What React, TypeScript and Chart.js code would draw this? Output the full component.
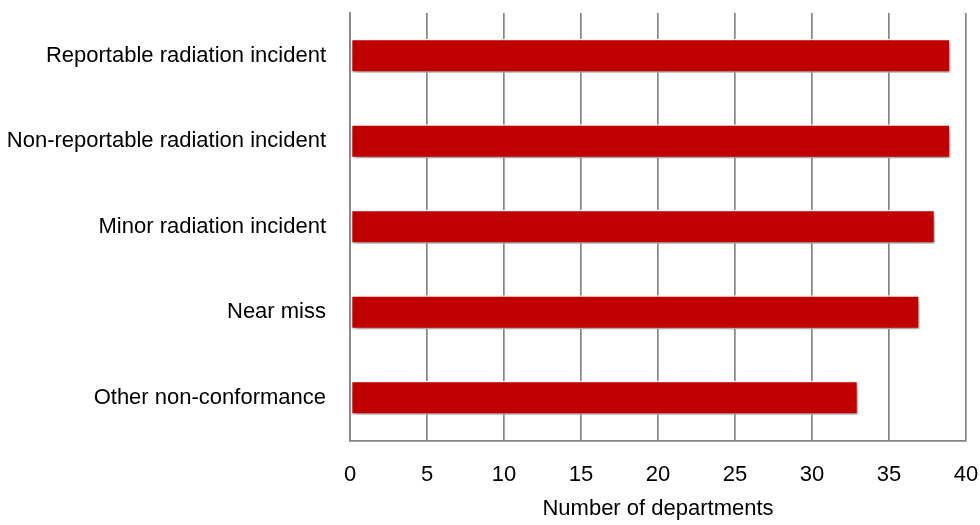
import React, { useEffect, useRef } from "react";
import { Chart, registerables } from "chart.js";

Chart.register(...registerables);

const categories = [
  "Reportable radiation incident",
  "Non-reportable radiation incident",
  "Minor radiation incident",
  "Near miss",
  "Other non-conformance",
];
const departments = [39, 39, 38, 37, 33];
const xTickStep = 5;
const xMax = 40;
const xTitle = "Number of departments";

const FONT = "'Liberation Sans', Arial, sans-serif";

// Soft drop shadow under the bars
const barShadow = {
  id: "barShadow",
  beforeDatasetDraw(chart: any) {
    const ctx = chart.ctx;
    ctx.save();
    ctx.shadowColor = "rgba(0,0,0,0.38)";
    ctx.shadowBlur = 6;
    ctx.shadowOffsetX = 2;
    ctx.shadowOffsetY = 4;
  },
  afterDatasetDraw(chart: any) {
    chart.ctx.restore();
  },
};

export default function App() {
  const ref = useRef<HTMLCanvasElement>(null);

  useEffect(() => {
    if (!ref.current) return;
    const chart = new Chart(ref.current, {
      type: "bar",
      data: {
        labels: categories,
        datasets: [
          {
            data: departments,
            backgroundColor: "#C00000",
            borderColor: "#ffffff",
            borderWidth: 1.5,
            borderSkipped: false,
            categoryPercentage: 1,
            barPercentage: 0.4,
          },
        ],
      },
      options: {
        indexAxis: "y",
        animation: false,
        responsive: false,
        layout: { padding: { top: 13, right: 14, left: 0, bottom: 0 } },
        plugins: { legend: { display: false }, tooltip: { enabled: false } },
        scales: {
          x: {
            min: 0,
            max: xMax,
            afterFit(scale: any) {
              scale.height = 84.5;
              scale.paddingLeft = 0;
              scale.paddingRight = 0;
            },
            ticks: {
              stepSize: xTickStep,
              color: "#000",
              font: { family: FONT, size: 22 },
              padding: 21,
            },
            grid: { color: "#858585", lineWidth: 1.7, drawTicks: false },
            border: { display: true, color: "#858585", width: 1.7 },
            title: {
              display: true,
              text: xTitle,
              color: "#000",
              font: { family: FONT, size: 22 },
              padding: { top: 0, bottom: 3 },
            },
          },
          y: {
            afterFit(scale: any) {
              scale.width = 350;
              scale.paddingTop = 0;
              scale.paddingBottom = 0;
            },
            ticks: {
              color: "#000",
              font: { family: FONT, size: 22 },
              padding: 24,
            },
            grid: { display: false, drawTicks: false },
            border: { display: true, color: "#858585", width: 1.7 },
          },
        },
      },
      plugins: [barShadow],
    });
    return () => chart.destroy();
  }, []);

  return (
    <div style={{ position: "fixed", left: 0, top: 0, width: 980, height: 525, background: "#fff" }}>
      <canvas ref={ref} width={980} height={525} />
    </div>
  );
}
